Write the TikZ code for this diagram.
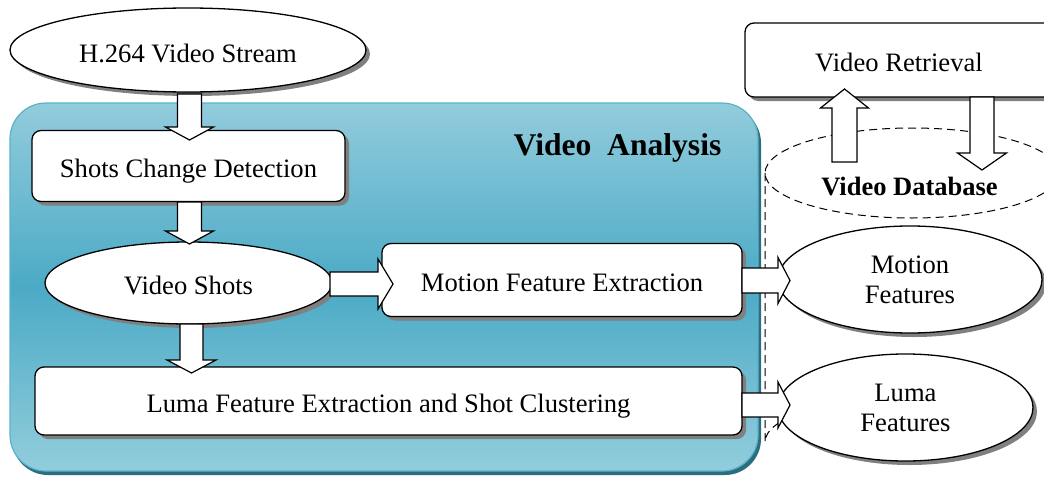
\documentclass[tikz,border=0pt]{standalone}
\usepackage{fontspec}
\setmainfont{Liberation Serif}
\usetikzlibrary{shapes.geometric,calc,shadows}
\definecolor{bxtop}{HTML}{92CCDC}
\definecolor{bxmid}{HTML}{4BAAC6}
\definecolor{bxbot}{HTML}{92CDDC}
\definecolor{bxedge}{HTML}{5AB2CA}
\definecolor{bxdark}{HTML}{2C6E80}
\tikzset{
  x=1pt, y=-1pt,
  txt/.style={font=\fontsize{26.6}{30}\selectfont, align=center, inner sep=0pt},
  oneline/.style={text height=24pt, text depth=0.4pt},
  shad/.style={drop shadow={shadow xshift=4pt, shadow yshift=-4pt, fill=black!50, opacity=1}},
  rbox/.style={txt, draw=black, line width=1.3pt, fill=white, rounded corners=9pt, shad},
  ell/.style={txt, ellipse, draw=black, line width=1.3pt, fill=white, shad},
  barrowsty/.style={draw=black, line width=1.2pt, fill=white, line join=miter},
  dbline/.style={draw=black, line width=1pt, dash pattern=on 8pt off 5pt},
}
% block arrow: start, end, shaft half width, head half width, head length
\newcommand\blockarr[5]{%
  \coordinate (ba-h) at ($#2!#5pt!#1$);
  \draw[barrowsty] ($#1!#3pt!90:#2$) -- ($(ba-h)!#3pt!90:#2$) -- ($(ba-h)!#4pt!90:#2$) -- #2
    -- ($(ba-h)!#4pt!-90:#2$) -- ($(ba-h)!#3pt!-90:#2$) -- ($#1!#3pt!-90:#2$) -- cycle;}
\begin{document}
\begin{tikzpicture}
\useasboundingbox (0,0) rectangle (1044,479);
% Video Analysis panel
\fill[bxdark, rounded corners=36pt] (12,107) rectangle (761,475);
\path[draw=bxedge, line width=1.2pt, rounded corners=36pt, top color=bxtop, bottom color=bxbot, middle color=bxmid]
  (10,103) rectangle (758,471);
\node[font=\bfseries\fontsize{31.6}{34}\selectfont, inner sep=0pt, anchor=base] (va) at (617.5,155) {Video~ Analysis};

% Video database (dashed cylinder)
\draw[dbline] (765,173) -- (765,442) arc[start angle=180, end angle=300, x radius=147, y radius=45];
\draw[dbline] (912,173) ellipse[x radius=147, y radius=45];
\node[font=\bfseries\fontsize{26.5}{30}\selectfont, inner sep=0pt, anchor=base] (vdb) at (909.5,195) {Video Database};

% nodes
\node[ell, oneline, text height=26pt, minimum width=356, minimum height=84] (h264) at (188,50) {H.264 Video Stream};
\node[rbox, oneline, minimum width=313, minimum height=71] (shots) at (188.5,166) {Shots Change Detection};
\node[ell, oneline, minimum width=287, minimum height=82] (vshots) at (188.5,283) {Video Shots};
\node[rbox, oneline, minimum width=360, minimum height=73] (motion) at (562,280) {Motion Feature Extraction};
\node[rbox, oneline, minimum width=707, minimum height=68] (luma) at (388.5,401) {Luma Feature Extraction and Shot Clustering};
\node[ell, minimum width=264, minimum height=107] (mfeat) at (910,279.5) {Motion\\Features};
\node[ell, minimum width=255, minimum height=107] (lfeat) at (905.5,407.5) {Luma\\Features};
\node[rbox, oneline, minimum width=322, minimum height=74] (retr) at (906,60) {Video Retrieval\hspace{14pt}};

% arrow end points
\coordinate (a1s) at (189.5,94);   \coordinate (a1e) at (189.5,140);
\coordinate (a2s) at (189.5,202);  \coordinate (a2e) at (189.5,244);
\coordinate (a3s) at (330,284);    \coordinate (a3e) at (393,284);
\coordinate (a4s) at (191.5,324);  \coordinate (a4e) at (191.5,373);
\coordinate (a5s) at (742,280.5);  \coordinate (a5e) at (790,280.5);
\coordinate (a6s) at (742,405);    \coordinate (a6e) at (790,405);
\coordinate (a7s) at (844.5,162);  \coordinate (a7e) at (844.5,89);
\coordinate (a8s) at (982,97);     \coordinate (a8e) at (982,170);

\blockarr{(a1s)}{(a1e)}{12}{24}{13}
\blockarr{(a2s)}{(a2e)}{12}{24}{13}
\blockarr{(a3s)}{(a3e)}{12}{25}{15}
\blockarr{(a4s)}{(a4e)}{11.5}{24.5}{13}
\blockarr{(a5s)}{(a5e)}{12.5}{23}{12}
\blockarr{(a6s)}{(a6e)}{12}{23}{12}
\blockarr{(a7s)}{(a7e)}{12.5}{24}{19}
\blockarr{(a8s)}{(a8e)}{12}{24.5}{17}
\end{tikzpicture}
\end{document}
